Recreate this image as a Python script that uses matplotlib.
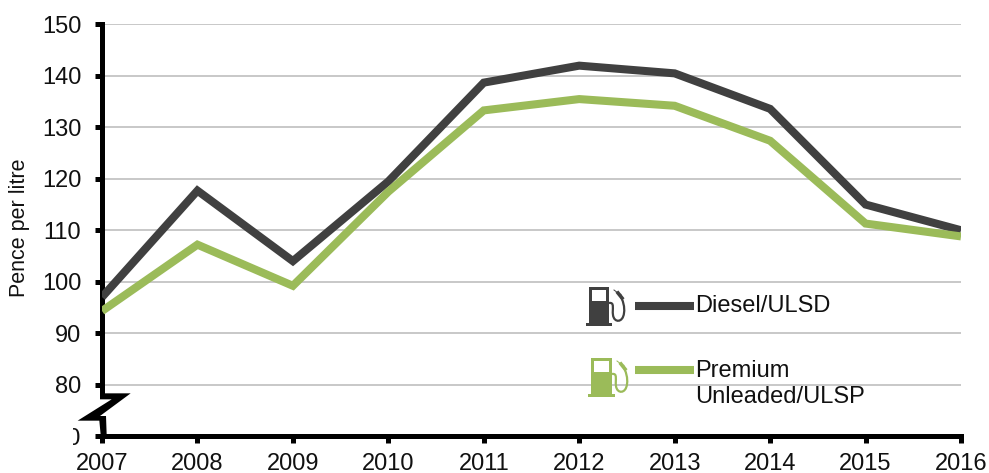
import matplotlib
matplotlib.use("Agg")
import matplotlib.pyplot as plt
from matplotlib.patches import Polygon, Rectangle, PathPatch
from matplotlib.path import Path
from matplotlib.lines import Line2D
from matplotlib.transforms import Affine2D, Bbox

plt.rcParams['font.family'] = ['Liberation Sans', 'DejaVu Sans']

W, H = 989, 473

years = [2007, 2008, 2009, 2010, 2011, 2012, 2013, 2014, 2015, 2016]
diesel = [97.0, 117.7, 104.0, 119.5, 138.7, 142.0, 140.5, 133.6, 115.0, 110.0]
premium = [94.3, 107.2, 99.2, 117.5, 133.3, 135.5, 134.2, 127.4, 111.3, 108.8]
y_ticks = [70, 80, 90, 100, 110, 120, 130, 140, 150]

DARK = '#404040'
GREEN = '#9bbb59'

fig = plt.figure(figsize=(W / 100, H / 100), dpi=100)
ax = fig.add_axes([102 / W, 1 - 436 / H, (961 - 102) / W, (436 - 24.5) / H])

# pixel coords, origin top left like the image
px = Affine2D().scale(1, -1).translate(0, H)

ax.plot(years, diesel, color=DARK, lw=5.8, solid_capstyle='butt', solid_joinstyle='miter', zorder=3)
ax.plot(years, premium, color=GREEN, lw=5.8, solid_capstyle='butt', solid_joinstyle='miter', zorder=3)

ax.set_xlim(2007, 2016)
ax.set_ylim(70, 150)
ax.set_xticks(years)
ax.set_yticks(y_ticks)
ax.tick_params(axis='both', labelsize=17, width=3.6, length=5, color='black', labelcolor='#111111')
ax.tick_params(axis='x', pad=7)
ax.tick_params(axis='y', pad=10)
ax.grid(axis='y', color='#bfbfbf', lw=1.2, zorder=1)
ax.set_axisbelow(True)
ax.set_ylabel('Pence per litre', fontsize=15.5, color='#111111')
ax.yaxis.set_label_coords(30 / W, 1 - 228 / H, transform=fig.transFigure)

for s in ['top', 'right']:
    ax.spines[s].set_visible(False)
for s in ['left', 'bottom']:
    ax.spines[s].set_linewidth(3.6)
ax.spines['left'].set_bounds(78.4, 150)

# the 70 label is cut off in the original, only the right of the 0 shows
for lab in ax.get_yticklabels():
    if lab.get_text() == '70':
        lab.set_clip_box(Bbox([[73, 0], [W, H]]))
        lab.set_clip_on(True)

# axis break
zig = [(300, 100), (392, 100), (300, 168), (318, 168), (320, 225), (302, 225),
       (298, 182), (233, 182), (335, 118), (300, 118)]
fig.add_artist(Polygon([(x / 3, y / 3 + 360) for x, y in zig], closed=True,
                       fc='black', ec='none', transform=px, zorder=5))


def pump(x, y, color, w=20):
    # x, y = top left of the body
    body = Rectangle((x, y), w, 36, fc=color, ec='none', transform=px, zorder=4)
    base = Rectangle((x - 3, y + 36), w + 6, 3, fc=color, ec='none', transform=px, zorder=4)
    win = Rectangle((x + 3, y + 3), w - 6, 11, fc='white', ec='none', transform=px, zorder=5)
    fig.add_artist(body)
    fig.add_artist(base)
    fig.add_artist(win)
    codes = [Path.MOVETO, Path.CURVE4, Path.CURVE4, Path.CURVE4, Path.CURVE4, Path.CURVE4, Path.CURVE4,
             Path.CURVE4, Path.CURVE4, Path.CURVE4]
    verts = [(x + w, y + 16), (x + w + 6, y + 15), (x + w + 3, y + 22), (x + w + 4, y + 28),
             (x + w + 5, y + 36), (x + w + 14, y + 36), (x + w + 15, y + 26),
             (x + w + 16, y + 20), (x + w + 14, y + 14), (x + w + 11, y + 7)]
    fig.add_artist(PathPatch(Path(verts, codes), fc='none', ec=color, lw=1.6, transform=px, zorder=4))
    fig.add_artist(Line2D([x + w + 9, x + w + 13], [y + 6, y + 11], color=color, lw=2.6,
                          transform=px, zorder=4))
    fig.add_artist(Line2D([x + w + 5, x + w + 9], [y + 3, y + 6], color=color, lw=0.7,
                          transform=px, zorder=4))


pump(589, 287, DARK)
pump(591, 358, GREEN, w=21)

fig.add_artist(Line2D([635, 694], [305.5, 305.5], color=DARK, lw=5.8, solid_capstyle='butt', transform=px, zorder=4))
fig.add_artist(Line2D([635, 694], [369.5, 369.5], color=GREEN, lw=5.8, solid_capstyle='butt', transform=px, zorder=4))

fig.text(695, 305.5, 'Diesel/ULSD', fontsize=17, color='#111111', va='center', ha='left', transform=px)
fig.text(695, 384, 'Premium\nUnleaded/ULSP', fontsize=17, color='#111111', va='center', ha='left',
         linespacing=1.25, transform=px)

fig.savefig('out.png', dpi=100)
